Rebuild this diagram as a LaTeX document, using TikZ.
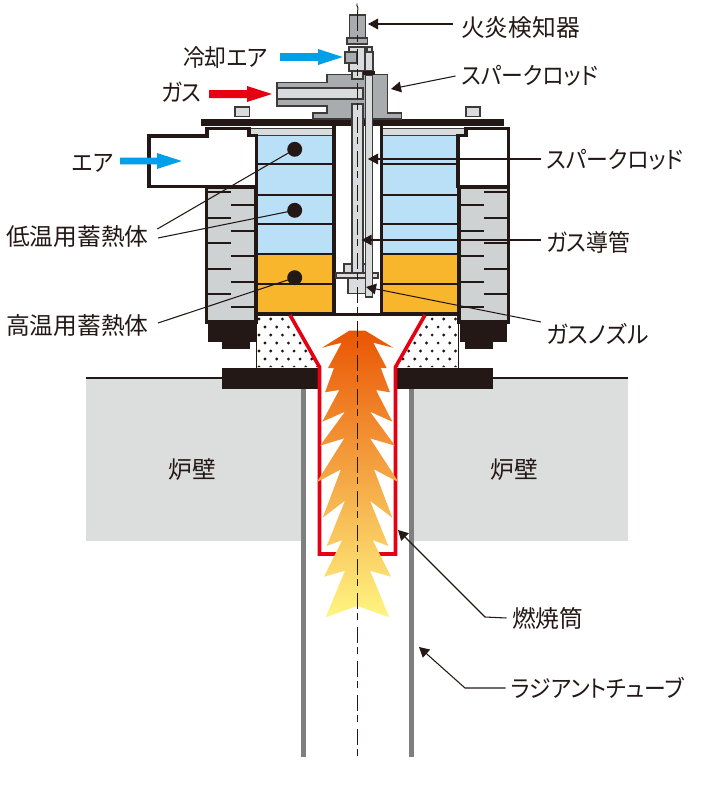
\documentclass[tikz,border=0pt]{standalone}
\usepackage{fontspec}
\setmainfont{Noto Sans CJK JP}
\newfontfamily\jp{Noto Sans CJK JP}
\newfontfamily\jpp[RawFeature=+palt,FakeStretch=0.92]{Noto Sans CJK JP}
\newfontfamily\jpq[RawFeature=+palt,FakeStretch=0.96]{Noto Sans CJK JP}
\usetikzlibrary{arrows.meta}
\definecolor{ink}{HTML}{231815}
\definecolor{bluefill}{HTML}{B9E0F7}
\definecolor{orangefill}{HTML}{F8B62D}
\definecolor{blockgray}{HTML}{A9ACAE}
\definecolor{lightgray2}{HTML}{D9DCDC}
\definecolor{jacket}{HTML}{CFD2D3}
\definecolor{wallgray}{HTML}{DCDDDD}
\definecolor{tubegray}{HTML}{7F7F7F}
\definecolor{airblue}{HTML}{00A0E9}
\definecolor{gasred}{HTML}{E60012}
\definecolor{edgegray}{HTML}{3E3A39}
\tikzset{
  heavy/.style={draw=ink,line width=2.3pt,line join=miter},
  divider/.style={draw=ink,line width=1.5pt},
  part/.style={draw=edgegray,line width=.95pt,fill=lightgray2},
  blockpart/.style={draw=edgegray,line width=.95pt,fill=blockgray},
  leader/.style={draw=ink,line width=.8pt,-{Triangle[length=7.5pt,width=8pt]}},
  plainleader/.style={draw=ink,line width=.8pt},
  lab/.style={font=\jp\fontsize{17.8}{20}\selectfont,text=ink,inner sep=4pt,anchor=west},
  labp/.style={font=\jpp\fontsize{17.8}{20}\selectfont,text=ink,inner sep=4pt,anchor=west},
  labq/.style={font=\jpq\fontsize{17.8}{20}\selectfont,text=ink,inner sep=4pt,anchor=west},
}
\begin{document}
\begin{tikzpicture}[x=.75pt,y=-.75pt]
\useasboundingbox (0,0) rectangle (722,785);
% furnace walls
\fill[wallgray] (86,379) rectangle (302,541);
\fill[wallgray] (412,379) rectangle (628,541);
\fill[tubegray] (300.5,389) rectangle (305.5,757);
\fill[tubegray] (409,389) rectangle (414,757);
\draw[ink,line width=2.2pt] (86,378) -- (224,378);
\draw[ink,line width=2.2pt] (490,378) -- (628,378);
% jackets
\foreach \xa/\xb in {206.5/256,459/508.5}{
  \draw[heavy,fill=jacket] (\xa,187) rectangle (\xb,322);
}
\foreach \y in {192.3,218,243.3,269,294.3}{
  \draw[divider] (207,\y) -- (231,\y);
  \draw[divider] (484,\y) -- (508,\y);
}
\foreach \y in {205,230.7,256,281.7,307}{
  \draw[divider] (231,\y) -- (255,\y);
  \draw[divider] (460,\y) -- (484,\y);
}
% feet
\fill[ink] (208,320) rectangle (256,342);
\fill[ink] (222,342) rectangle (250,349);
\fill[ink] (460,320) rectangle (507,342);
\fill[ink] (465,342) rectangle (493,349);
% regenerators
\fill[bluefill] (256,135) rectangle (334,254);
\fill[bluefill] (382,135) rectangle (458,254);
\fill[orangefill] (256,254) rectangle (334,314);
\fill[orangefill] (382,254) rectangle (458,314);
\draw[part,line width=.6pt] (249,128) rectangle (334,135);
\draw[part,line width=.6pt] (382,128) rectangle (467,135);
\foreach \y in {164.3,194.7,224.3,254.3,283.7}{
  \draw[divider] (256,\y) -- (334,\y);
  \draw[divider] (382,\y) -- (458,\y);
}
\draw[heavy] (256.5,314) -- (334,314);
\draw[heavy] (382,314) -- (458,314);
% air boxes
\draw[heavy,fill=white] (149,136) -- (207,136) -- (207,128.5) -- (249,128.5) -- (249,135.5) -- (256.5,135.5) -- (256.5,186.5) -- (149,186.5) -- cycle;
\draw[heavy,fill=white] (458,135.5) -- (466,135.5) -- (466,128.5) -- (508.5,128.5) -- (508.5,186.5) -- (458,186.5) -- cycle;
\draw[heavy] (256.5,186) -- (256.5,322);
\draw[heavy] (458.5,186) -- (458.5,322);
% dotted refractory
\begin{scope}
  \clip (257,315) -- (290,315) -- (318,367) -- (257,367) -- cycle;
  \foreach \r in {0,2,4,6}{
    \foreach \c in {0,...,5}{\fill[ink] ({259+\c*11.7},{319+\r*8}) circle (1.2pt);}
    \foreach \c in {0,...,5}{\fill[ink] ({265+\c*11.7},{327+\r*8}) circle (1.2pt);}
  }
\end{scope}
\begin{scope}
  \clip (425,315) -- (397,367) -- (458,367) -- (458,315) -- cycle;
  \foreach \r in {0,2,4,6}{
    \foreach \c in {0,...,5}{\fill[ink] ({397+\c*11.7},{319+\r*8}) circle (1.2pt);}
    \foreach \c in {0,...,5}{\fill[ink] ({403+\c*11.7},{327+\r*8}) circle (1.2pt);}
  }
\end{scope}
\draw[ink,line width=1.3pt] (256.5,315) -- (256.5,368);
\draw[ink,line width=1.3pt] (458.5,315) -- (458.5,368);
% black flanges
\fill[ink] (222,368) rectangle (318,389);
\fill[ink] (397,368) rectangle (493,389);
% combustion tube
\draw[gasred,line width=2.7pt,line join=miter] (290,315) -- (319.5,367) -- (319.5,554) -- (337,554);
\draw[gasred,line width=2.7pt,line join=miter] (425,315) -- (395.5,367) -- (395.5,554) -- (378,554);
% flame
\shade[top color={rgb,255:red,234;green,85;blue,4},bottom color={rgb,255:red,255;green,245;blue,130}]
 (349.3,330.7) -- (322,347.7) -- (341.7,342.7) -- (328,368) -- (334,368) -- (325,392.3) -- (339.3,390) -- (322.3,421.7) -- (345,411.7) -- (320,445.7) -- (344.3,438.3) -- (316.7,482.3) -- (341,469.3) -- (322.7,517.7) -- (345,500.7) -- (326.7,546) -- (342.3,540) -- (324,576.7) -- (345,570.7) -- (325.7,617.3) -- (357.3,606) -- (389.3,617.3) -- (370,570.7) -- (391,576.7) -- (372.7,540) -- (388.3,546) -- (370,500.7) -- (392.3,517.7) -- (374,469.3) -- (398.7,482.3) -- (370,438.3) -- (395,445.7) -- (370,411.7) -- (392.3,421.7) -- (376,390) -- (390,392.3) -- (380.7,368) -- (386.7,368) -- (373.3,342.7) -- (393.3,347.7) -- (365.3,330.7) -- cycle;
% top plate
\fill[ink] (201,119) rectangle (504,126);
% centre duct
\fill[white] (335,126) rectangle (381,314);
\draw[heavy] (334,125) -- (334,315);
\draw[heavy] (381.5,125) -- (381.5,315);
\draw[heavy] (332.5,314.5) -- (383,314.5);
% small pads
\draw[part] (235,107) rectangle (249.5,116.5);
\draw[part] (466,107) rectangle (480,116.5);
% gas block
\draw[blockpart] (277,82.7) -- (327,82.7) -- (327,74.7) -- (387.7,74.7) -- (387.7,113) -- (401.7,113) -- (401.7,119) -- (313,119) -- (313,113) -- (327,113) -- (327,106) -- (277,106) -- cycle;
\draw[part] (277,88) -- (363,88) -- (363,99) -- (277,99) -- cycle;
% nozzle
\draw[part] (344,264) rectangle (370.5,273);
\draw[part] (336,273) rectangle (378,278);
\draw[part] (348,278) rectangle (366,293.5);
% gas pipe and spark rod
\draw[part] (352,104) rectangle (363,273);
\draw[part] (365.7,75) rectangle (372.3,297);
% detector
\draw[blockpart] (349.5,15) rectangle (365.5,38);
\draw[part,fill=blockgray] (347,38) rectangle (367.5,44);
\draw[part] (365,52) rectangle (373,71);
\draw[part] (367,47) rectangle (372,52);
\draw[part] (349,47) rectangle (365,71);
\draw[part,fill=blockgray] (345,52) rectangle (357,63);
\draw[part] (352,71) rectangle (363,79);
\fill[ink] (363,71) rectangle (375,75);
\draw[ink,line width=.7pt] (357.5,15) .. controls (356,12) and (359,11) .. (358,8) .. controls (357.5,6) and (356,5) .. (357,3.5);
% centre line
\draw[ink,line width=1.15pt,dash pattern=on 12pt off 3pt on 5pt off 5.5pt,dash phase=0pt] (357.5,15) -- (357.5,757);
% labels
\node[lab] (detector) at (455.5,28) {火炎検知器};
\node[labp] (rodA) at (455.5,76) {スパークロッド};
\node[labp] (rodB) at (540.5,160) {スパークロッド};
\node[labp] (pipe) at (540.5,242) {ガス導管};
\node[labq] (nozzle) at (540.5,334) {ガスノズル};
\node[lab] (cyl) at (506.5,618) {燃焼筒};
\node[labp] (radiant) at (505.5,688) {ラジアントチューブ};
\node[labp] (cool) at (177.5,57) {冷却エア};
\node[labp] (gas) at (155.5,92) {ガス};
\node[labp] (air) at (66.5,163) {エア};
\node[lab] (low) at (.5,237) {低温用蓄熱体};
\node[lab] (high) at (.5,326) {高温用蓄熱体};
\node[lab] (wallL) at (163,470) {炉壁};
\node[lab] (wallR) at (485,470) {炉壁};
% flow arrows
\fill[airblue] (280,53.2) -- (318,53.2) -- (318,49) -- (342.7,57) -- (318,65) -- (318,60.8) -- (280,60.8) -- cycle;
\fill[gasred] (209,90) -- (247,90) -- (247,86) -- (272,94) -- (247,102) -- (247,98) -- (209,98) -- cycle;
\fill[airblue] (120,157.6) -- (157,157.6) -- (157,153) -- (181.7,161) -- (157,169) -- (157,164.4) -- (120,164.4) -- cycle;
% dots
\coordinate (dotA) at (294.7,149.3);
\coordinate (dotB) at (294.7,210.3);
\coordinate (dotC) at (294.7,277.7);
\foreach \d in {dotA,dotB,dotC}{\fill[ink] (\d) circle (5.6pt);}
% leaders
\coordinate (lowA) at (157.3,229);
\coordinate (lowB) at (158,238);
\coordinate (highA) at (158,323);
\coordinate (tipDet) at (368,24);
\coordinate (startDet) at (453,24);
\coordinate (tipRodA) at (391,89);
\coordinate (tipRodB) at (368,159);
\coordinate (startRodB) at (541,159);
\coordinate (tipPipe) at (361.7,240);
\coordinate (startPipe) at (541,240);
\coordinate (tipNoz) at (366,287);
\coordinate (startNoz) at (541,322);
\coordinate (tipCyl) at (398,530);
\coordinate (kneeCyl) at (485,617);
\coordinate (tipRad) at (419,647);
\coordinate (kneeRad) at (465,688);
\draw[plainleader] (lowA) -- (dotA);
\draw[plainleader] (lowB) -- (dotB);
\draw[plainleader] (highA) -- (dotC);
\draw[leader] (startDet) -- (tipDet);
\draw[leader] (rodA.west) -- (tipRodA);
\draw[leader] (startRodB) -- (tipRodB);
\draw[leader] (startPipe) -- (tipPipe);
\draw[leader] (startNoz) -- (tipNoz);
\draw[leader] (cyl.west) -- (kneeCyl) -- (tipCyl);
\draw[leader] (radiant.west) -- (kneeRad) -- (tipRad);
\end{tikzpicture}
\end{document}
